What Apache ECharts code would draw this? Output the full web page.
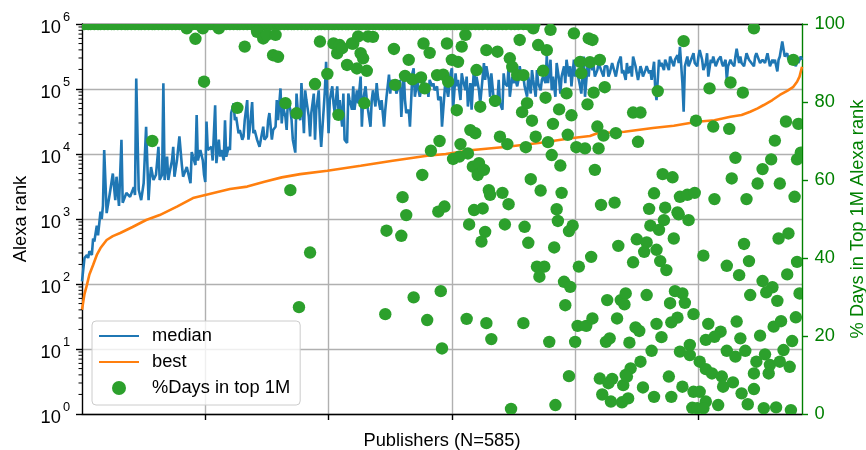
<!DOCTYPE html>
<html><head><meta charset="utf-8">
<script src="https://cdn.jsdelivr.net/npm/echarts@6/dist/echarts.min.js"></script>
<style>html,body{margin:0;padding:0;background:#fff}#c{width:866px;height:450px}</style>
</head><body><div id="c"></div><script>
// ---- data (publisher index, value) ----
const medianPoints = [[0,110],[2,250],[4,280],[5,250],[6,320],[8,280],[9,500],[10,450],[12,790],[13,560],[15,1300],[16,1000],[17,1600],[18,11500],[20,1230],[23,2800],[25,5000],[27,1950],[28,4470],[30,1590],[32,16600],[33,1780],[36,2510],[39,2190],[42,3090],[43,2340],[44,145000],[46,2820],[47,2630],[48,1950],[50,3550],[52,26300],[54,1950],[55,3980],[56,6310],[58,3980],[60,4790],[62,12900],[63,3980],[65,4790],[66,123000],[67,3980],[69,9120],[70,3980],[71,5130],[73,7940],[74,12900],[75,4470],[77,7940],[79,18600],[81,6760],[82,4470],[85,6310],[88,3550],[89,10700],[90,9120],[92,6760],[93,39800],[94,7940],[96,11500],[98,7940],[99,4790],[100,3720],[101,31600],[102,11500],[105,12900],[106,7940],[108,56200],[109,7240],[111,16600],[112,9120],[113,11500],[115,7940],[116,33100],[117,9120],[119,12900],[120,11500],[121,42700],[123,60300],[124,33100],[125,37200],[127,20900],[128,23400],[130,16600],[131,18600],[132,33100],[134,67600],[135,16600],[136,23400],[138,63100],[139,20900],[140,23400],[142,16600],[144,12900],[146,20900],[147,26300],[148,16600],[150,18600],[151,33100],[152,42700],[154,16600],[155,23400],[157,26300],[158,67600],[159,33100],[161,102000],[162,29500],[163,53700],[165,37200],[166,23400],[167,67600],[169,47900],[170,33100],[171,16600],[173,10500],[174,85100],[175,47900],[177,33100],[178,123000],[180,20900],[181,95500],[182,67600],[184,37200],[185,18600],[186,42700],[188,85100],[189,16600],[190,47900],[192,95500],[193,26300],[194,12900],[196,47900],[197,95500],[198,263000],[200,20900],[201,67600],[203,110000],[204,60300],[205,42700],[207,110000],[208,47900],[209,67600],[211,26300],[212,85100],[213,16600],[215,14800],[216,85100],[217,67600],[219,47900],[220,110000],[221,47900],[223,95500],[224,60300],[226,155000],[227,26300],[228,67600],[230,110000],[231,67600],[232,47900],[234,26300],[235,67600],[236,95500],[238,53700],[239,123000],[240,75900],[242,47900],[243,67600],[245,26300],[246,47900],[247,75900],[249,166000],[250,85100],[251,138000],[253,110000],[254,123000],[255,85100],[257,110000],[258,138000],[259,37200],[261,174000],[262,67600],[263,42700],[265,47900],[266,26300],[268,174000],[269,209000],[270,75900],[272,138000],[273,95500],[274,75900],[276,123000],[277,155000],[278,95500],[280,110000],[281,75900],[282,138000],[284,110000],[285,123000],[286,95500],[288,110000],[289,67600],[291,75900],[292,26300],[295,155000],[296,95500],[297,75900],[299,174000],[300,209000],[301,47900],[303,174000],[304,110000],[305,138000],[307,67600],[308,174000],[309,138000],[311,95500],[312,155000],[313,53700],[315,123000],[316,47900],[318,224000],[319,110000],[320,155000],[322,95500],[323,60300],[324,95500],[326,251000],[327,138000],[328,224000],[330,138000],[331,75900],[332,174000],[334,67600],[335,53700],[337,67600],[338,138000],[339,60300],[341,47900],[342,174000],[343,123000],[345,110000],[346,224000],[347,75900],[349,155000],[350,123000],[351,155000],[353,110000],[354,138000],[355,224000],[357,138000],[358,155000],[359,110000],[361,75900],[362,155000],[364,85100],[365,195000],[366,138000],[368,75900],[369,195000],[370,123000],[372,95500],[373,138000],[374,155000],[376,123000],[377,331000],[378,123000],[380,282000],[381,95500],[382,155000],[384,75900],[385,251000],[387,138000],[388,85100],[389,155000],[391,224000],[392,123000],[393,282000],[395,155000],[396,224000],[397,110000],[399,282000],[400,155000],[401,195000],[403,138000],[404,110000],[405,85100],[407,316000],[408,75900],[410,224000],[411,155000],[412,282000],[414,195000],[415,224000],[416,155000],[418,195000],[419,251000],[420,251000],[422,174000],[423,155000],[424,224000],[426,224000],[427,155000],[428,174000],[430,251000],[431,251000],[433,155000],[434,155000],[435,251000],[437,316000],[438,174000],[439,195000],[441,138000],[442,251000],[443,174000],[445,224000],[446,155000],[447,316000],[449,224000],[450,174000],[451,138000],[453,224000],[454,195000],[455,155000],[457,195000],[458,224000],[460,174000],[461,195000],[462,138000],[464,263000],[465,95500],[466,67600],[468,282000],[469,224000],[470,251000],[472,195000],[473,282000],[474,251000],[476,195000],[477,316000],[479,251000],[480,224000],[481,282000],[483,331000],[484,251000],[485,447000],[487,123000],[488,44700],[489,224000],[491,316000],[492,224000],[493,251000],[495,316000],[496,355000],[497,251000],[499,224000],[500,316000],[501,398000],[503,282000],[504,195000],[506,251000],[507,355000],[508,155000],[510,282000],[511,251000],[512,316000],[514,224000],[515,234000],[516,282000],[518,316000],[519,251000],[520,224000],[522,282000],[523,138000],[524,224000],[526,282000],[527,251000],[529,224000],[530,316000],[531,417000],[533,251000],[534,316000],[535,251000],[537,224000],[538,282000],[539,355000],[541,282000],[542,282000],[543,251000],[545,224000],[546,316000],[547,355000],[549,282000],[550,251000],[552,282000],[553,282000],[554,251000],[556,355000],[557,282000],[558,224000],[560,282000],[561,251000],[562,282000],[564,186000],[565,282000],[566,316000],[568,537000],[570,316000],[572,355000],[573,282000],[574,282000],[576,331000],[577,355000],[579,224000],[580,282000],[581,251000],[583,316000],[584,282000]];

const bestPoints = [[0,40],[1,53],[2,70],[4,97],[6,140],[9,196],[12,280],[15,357],[20,475],[25,545],[31,609],[41,754],[52,966],[63,1150],[77,1550],[90,2100],[100,2340],[120,2890],[134,3150],[148,3750],[162,4370],[177,4900],[199,5530],[226,6610],[252,7890],[280,9420],[295,10000],[317,11500],[345,12900],[372,14900],[398,17600],[412,18900],[418,20800],[440,22000],[463,25100],[480,27200],[499,31400],[513,33100],[526,37500],[535,39800],[542,44700],[548,50400],[553,56700],[560,67600],[566,81000],[572,93800],[577,108000],[580,129000],[582,155000],[584,220000]];

// publishers whose share of days in the top 1M is 100 %
const topBandPubs = [0,2,5,7,10,13,15,18,21,24,26,29,32,35,37,40,43,46,48,51,54,57,59,62,65,68,70,73,76,79,81,84,87,90,93,95,98,101,104,106,109,112,115,117,120,123,126,128,131,134,137,139,142,145,148,150,153,156,159,161,164,167,170,172,175,178,181,183,186,189,192,194,197,200,203,205,208,211,214,216,219,222,225,227,230,233,236,238,241,244,247,249,252,255,258,260,263,266,269,271,274,277,280,282,285,288,291,293,296,299,302,304,307,310,313,316,319,322,325,329,332,335,338,341,344,348,351,354,358,361,364,367];

// other publishers: [publisher index, % days in top 1M]
const pctPoints = [[57,70],[85,98.9],[92,96.2],[98,98.9],[99,85.2],[111,98.9],[126,78.5],[132,94.2],[142,98],[147,96.3],
[150,97.2],[155,92],[157,97.2],[159,91.6],[165,79.7],[169,57.4],[174,77.1],[176,27.4],[185,41.4],[189,84.6],[193,95.5],[199,87.2],[204,95],[207,92.5],[208,76.7],[209,94.6],[211,93.8],[215,89.5],[219,95],[220,95],[223,88.6],[224,96.8],[226,92.5],[228,91.2],[229,79.7],[231,88],[232,96.8],[236,96.7],[246,25.6],[247,47],[253,93.6],[254,84.4],[259,45.7],[260,55.6],[262,86.7],[263,51],[265,90.8],[268,85.8],[269,29.9],[275,86.3],[276,61.3],[277,95],[278,83.5],[280,24.1],[282,92.6],[283,67.5],[288,86.9],[289,51.9],[290,70],[291,31.5],[292,16.8],[293,87],[294,53.2],
[296,95],[297,85.2],[300,90.8],[301,65.4],[304,77.9],[305,90.3],[306,66],[307,69.2],[308,94.2],[311,97.2],[313,66.8],[315,72.8],[317,63.4],[318,52.3],[319,72],[320,88.2],[321,61.3],[322,64.3],[323,78.8],[325,52.7],[326,62.6],[328,93.3],[330,57.4],[331,56.2],[335,80.3],[337,92.9],[339,71.1],[341,56.7],[345,69.2],[346,53.8],[347,91.2],[349,89],[353,86.9],[355,95.9],[357,77.4],[358,86.9],[360,68.4],[361,79.7],[364,60.2],[365,75.2],[366,98.9],[368,71.1],[370,94.6],[372,57.3],[374,88],[376,81.1],[377,93.3],[378,69.7],[380,98.5],[381,66.4],[382,74.4],[385,52.5],[387,78.1],[388,63.7],[389,56.7],[393,82.2],[394,71.6],[397,76.6],[399,97.6],[401,68.4],[404,90.3],[405,87.4],[408,68.1],[410,79.4],[411,96.3],[412,90.2],[414,95.9],[415,82.4],[416,62.6],[418,73.7],[419,68.1],[420,90.8],[421,53.6],[423,71.4],[424,83.8],[432,54.2],[433,72],
[314,48.6],[327,46.7],[324,44.2],[343,48.6],[359,48],[362,43.9],[386,49.5],[398,48.3],[395,46.9],[383,42.7],[413,40.3],[403,37.8],[435,43.1],[369,37.8],[375,37.8],[371,35.2],[391,33.9],[396,32.6],[392,27.9],[312,24.4],[328,23.3],[358,23.3],[332,19.2],[379,18.5],[400,18.5],[402,22.6],[409,22.6],[414,24.5],[426,29.2],[437,29.2],[434,24.5],[425,18.5],[428,19.4],[395,9.7],[384,2.3],[348,1.3],[420,9.1],[430,9],[427,7.9],[422,5],[429,3.2],[438,3],[439,7.4],[441,10],
[488,95.6],[545,98.9],[467,82.8],[509,83.5],[526,85],[536,82.4],[577,90.8],[447,77.3],[453,77.3],[498,75.2],[512,73.7],[525,73.1],[571,75],[581,74.4],[451,69.8],[562,70.1],[530,65.7],[559,65.3],[552,62.8],[583,67],[580,65.3],[471,61.5],[479,60.7],[527,60.4],[548,59.1],[566,59.1],[464,56.6],[485,55.7],[491,56.2],[497,56.7],[513,55.1],[539,55.1],[578,55.7],[460,52.6],[473,52.9],[483,51.7],
[484,51.2],[492,49.7],[472,49.7],[461,48.3],[468,47.2],[480,45],[450,44.8],[458,44],[466,42.1],[456,41.6],[447,38.9],[469,39.2],[474,36.9],[504,40.6],[537,43.6],[565,45],[573,46.3],[541,39.2],[523,38],[533,35.6],[572,35.8],[580,39],[552,34.1],[560,32.5],[555,31.2],[564,29],[542,30.5],[441,30.9],[440,28.1],[458,30.5],[481,31.5],[487,30.9],[477,28.4],[489,28.5],[496,25.6],[483,24.7],[478,23.5],[466,23.1],[449,22.2],[452,21.3],[470,19.7],[444,18.3],[462,16.2],[508,23.1],[518,21.1],[531,23.7],[534,19.4],[550,20.1],[561,22.4],[567,23.8],[579,24.8],[576,18.7],[506,19],[513,19.8],[493,17.7],[485,16],[493,15.1],[523,16.2],[530,14.7],[538,16.2],[547,13.4],[554,15.3],[558,12.6],[569,16.4],[566,13.4],[574,12.1],[545,10.4],[557,10.4],[501,13.4],[506,11.5],[511,10.4],[519,9.6],[520,7],[528,8.1],[535,5.3],[545,6.4],[540,2.5],[553,1.5],[563,1.7],[575,1],[453,13.4],[445,11.7],[442,9.6],[455,6.8],[443,4],[464,4.4],[476,9.6],[487,7],[478,4.4],[496,5.7],[501,5.7],[506,3.2],[495,1.6],[499,1.5],[516,2.3],[504,1.5],[582,30.9]];

const xTickValues = [100, 200, 300, 400, 500];
const pctTicks = {min: 0, max: 100, step: 20};

// ---- chart ----
const FONT = '"Liberation Sans", Arial, Helvetica, sans-serif';
const FS = 18.3;
const GTXT = '#008000';
const greenData = topBandPubs.map(i => [i, 100]).concat(pctPoints);
const minorTickValues = [];
for (let e = 0; e < 6; e++) for (let k = 2; k <= 9; k++) minorTickValues.push(k * Math.pow(10, e));

const chart = echarts.init(document.getElementById('c'), null, {renderer: 'canvas', width: 866, height: 450});
chart.setOption({
  animation: false,
  backgroundColor: '#ffffff',
  textStyle: {fontFamily: FONT},
  grid: {left: 82, right: 64, top: 24, bottom: 36, outerBoundsMode: 'none'},
  legend: {
    orient: 'vertical', left: 92, top: 321, padding: [5, 10, 7, 6],
    itemWidth: 40, itemHeight: 14, itemGap: 6, selectedMode: false,
    backgroundColor: 'rgba(255,255,255,0.8)', borderColor: '#cccccc', borderWidth: 1, borderRadius: 4,
    textStyle: {fontSize: FS, color: '#000', fontFamily: FONT, lineHeight: 20, padding: [0, 0, 0, 8]},
    data: [
      {name: 'median', itemStyle: {opacity: 0}},
      {name: 'best', itemStyle: {opacity: 0}},
      {name: '%Days in top 1M', icon: 'circle'}
    ]
  },
  xAxis: [{
    type: 'value', min: 0, max: 584, interval: 100,
    name: 'Publishers (N=585)', nameLocation: 'middle', nameGap: 18, nameMoveOverlap: false,
    nameTextStyle: {fontSize: FS, color: '#000', fontFamily: FONT},
    axisLine: {onZero: false, lineStyle: {color: '#000', width: 1.4}},
    axisTick: {length: 6, lineStyle: {color: '#000', width: 1.4}, customValues: xTickValues},
    axisLabel: {show: false},
    splitLine: {show: true, lineStyle: {color: '#b0b0b0', width: 1.4}}
  }, {
    type: 'value', position: 'top', min: 0, max: 584,
    axisLine: {show: true, onZero: false, lineStyle: {color: '#000', width: 1.4}},
    axisTick: {show: false}, axisLabel: {show: false}, splitLine: {show: false}
  }],
  yAxis: [{
    type: 'log', logBase: 10, min: 1, max: 1000000, splitNumber: 6,
    name: 'Alexa rank', nameLocation: 'middle', nameGap: 52, nameMoveOverlap: false,
    nameTextStyle: {fontSize: FS, color: '#000', fontFamily: FONT},
    axisLine: {show: true, onZero: false, lineStyle: {color: '#000', width: 1.4}},
    axisTick: {show: true, length: 6, lineStyle: {color: '#000', width: 1.4}},
    axisLabel: {
      margin: 12, color: '#000',
      formatter: v => '{b|10}{s|' + Math.round(Math.log10(v)) + '}',
      rich: {
        b: {fontSize: FS, lineHeight: 26, verticalAlign: 'bottom', color: '#000', fontFamily: FONT},
        s: {fontSize: 12.8, lineHeight: 17, verticalAlign: 'top', color: '#000', fontFamily: FONT, padding: [0, 0, 0, 2]}
      }
    },
    splitLine: {show: true, lineStyle: {color: '#b0b0b0', width: 1.4}}
  }, {
    type: 'value', position: 'right', min: pctTicks.min, max: pctTicks.max, interval: pctTicks.step,
    name: '% Days in Top 1M Alexa rank', nameLocation: 'middle', nameGap: 47, nameMoveOverlap: false,
    nameTextStyle: {fontSize: FS, color: GTXT, fontFamily: FONT},
    axisLine: {show: true, onZero: false, lineStyle: {color: GTXT, width: 1.4}},
    axisTick: {show: true, length: 6, lineStyle: {color: GTXT, width: 1.4}},
    axisLabel: {margin: 12.5, color: GTXT, fontSize: FS, fontFamily: FONT},
    splitLine: {show: false}
  }],
  series: [{
    name: 'median', type: 'line', xAxisIndex: 0, yAxisIndex: 0, data: medianPoints,
    symbol: 'none', showSymbol: false, lineStyle: {color: '#1f77b4', width: 2.6}, itemStyle: {color: '#1f77b4'}, z: 2
  }, {
    name: 'best', type: 'line', xAxisIndex: 0, yAxisIndex: 0, data: bestPoints,
    symbol: 'none', showSymbol: false, lineStyle: {color: '#ff7f0e', width: 2.6}, itemStyle: {color: '#ff7f0e'}, z: 2
  }, {
    name: '%Days in top 1M', type: 'custom', xAxisIndex: 0, yAxisIndex: 1, data: greenData, clip: true,
    itemStyle: {color: '#2ca02c'}, z: 3, silent: true,
    renderItem: (params, api) => {
      const p = api.coord([api.value(0), api.value(1)]);
      return {type: 'circle', shape: {cx: p[0], cy: p[1], r: 6.2}, style: {fill: '#2ca02c'}};
    }
  }, {
    name: '_minorTicks', type: 'custom', xAxisIndex: 0, yAxisIndex: 0, clip: false, silent: true, z: 4,
    data: minorTickValues.map(v => [0, v]),
    renderItem: (params, api) => {
      const p = api.coord([api.value(0), api.value(1)]);
      return {type: 'line', shape: {x1: p[0] - 3.5, y1: p[1], x2: p[0], y2: p[1]}, style: {stroke: '#000', lineWidth: 1}};
    }
  }]
});
</script></body></html>
